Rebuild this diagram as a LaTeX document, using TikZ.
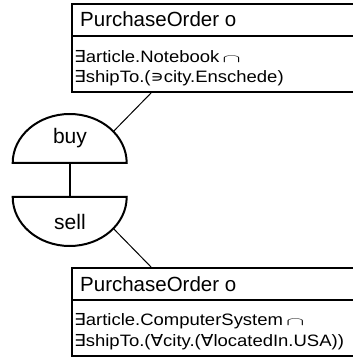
\documentclass[tikz,border=0pt]{standalone}
\usepackage{fontspec}
\usetikzlibrary{calc}
\setmainfont{Liberation Sans}
\newfontfamily\bodyf{Liberation Sans}[FakeStretch=1.12]
\newfontfamily\symf{DejaVu Sans}[FakeStretch=1.12]
\newcommand\exsym{{\symf ∃}}
\newcommand\allsym{{\symf ∀}}
\newcommand\ownsym{{\symf ∍}}
\newcommand\capsym{\hspace{3pt}\scalebox{1.6}[0.65]{$\cap$}}
\begin{document}
\begin{tikzpicture}[x=1pt,y=1pt,
  boxline/.style={line width=1.2pt},
  shapeline/.style={line width=2pt},
  conn/.style={line width=1pt},
  titletext/.style={anchor=base west,inner sep=0pt,font=\fontsize{20.5}{24}\selectfont},
  bodytext/.style={anchor=base west,inner sep=0pt,font=\bodyf\fontsize{16.5}{20}\selectfont},
  roletext/.style={inner sep=0pt,font=\fontsize{21}{24}\selectfont}]
\useasboundingbox (0,0) rectangle (353,357);
\clip (0,0) rectangle (353,357);
% top box
\coordinate (t1) at (72,353);
\coordinate (t2) at (380,265);
\draw[boxline] (t1) rectangle (t2);
\draw[boxline] (72,321) -- (380,321);
\node[titletext] (ttitle) at (80,330) {PurchaseOrder o};
\node[bodytext] (tl1) at (74,294) {\exsym article.Notebook\capsym};
\node[bodytext] (tl2) at (74,274) {\exsym shipTo.(\ownsym city.Enschede)};
\coordinate (tconn) at (152,265);
% bottom box
\coordinate (b1) at (72,89);
\coordinate (b2) at (380,1);
\draw[boxline] (b1) rectangle (b2);
\draw[boxline] (72,57) -- (380,57);
\node[titletext] (btitle) at (80,66) {PurchaseOrder o};
\node[bodytext] (bl1) at (74,31) {\exsym article.ComputerSystem\capsym};
\node[bodytext] (bl2) at (74,11) {\exsym shipTo.(\allsym city.(\allsym locatedIn.USA))};
\coordinate (bconn) at (152,89);
% buy / sell
\coordinate (buyc) at (69.7,194);
\coordinate (sellc) at (69.7,160);
\draw[shapeline] (12.7,194) arc (180:0:57 and 49) -- cycle;
\draw[shapeline] (12.7,160) arc (180:360:57 and 49) -- cycle;
\node[roletext] (buy) at (70,219) {buy};
\node[roletext] (sell) at (70,135) {sell};
\draw[shapeline] (buyc) -- (sellc);
\coordinate (buyp) at ($(buyc)+(40:57 and 49)$);
\coordinate (sellp) at ($(sellc)+(-40:57 and 49)$);
\draw[conn] (tconn) -- (buyp);
\draw[conn] (sellp) -- (bconn);
\end{tikzpicture}
\end{document}
